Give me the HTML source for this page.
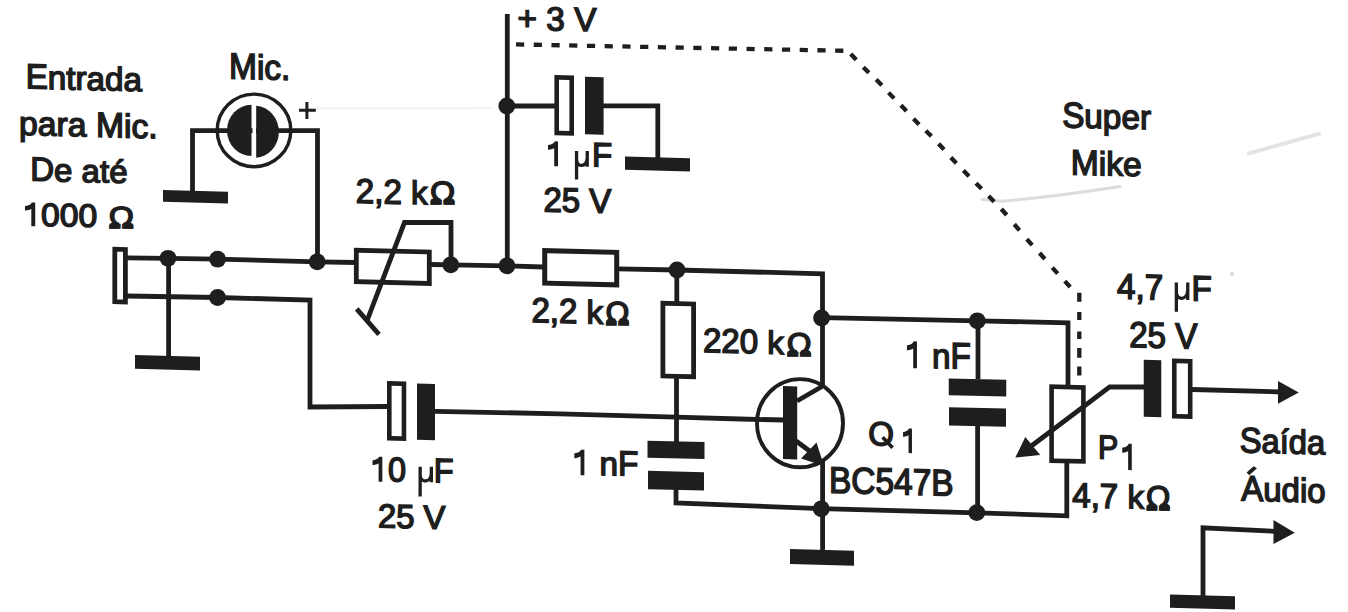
<!DOCTYPE html>
<html><head><meta charset="utf-8"><title>Super Mike</title>
<style>html,body{margin:0;padding:0;background:#fff;}body{width:1348px;height:612px;overflow:hidden;font-family:"Liberation Sans",sans-serif;}svg{display:block;}text{font-kerning:none;text-rendering:geometricPrecision;}</style>
</head><body><svg width="1348" height="612" viewBox="0 0 1348 612"><path d="M315 108.5 L493 108.3" stroke="#f2f2f2" stroke-width="2" fill="none"/><path d="M982 199.5 L1002 201.2 Q1060 196 1120 186.5" stroke="#dcdcdc" stroke-width="3" fill="none" stroke-linecap="round"/><path d="M1249 153.4 L1319 133.8" stroke="#e4e4e4" stroke-width="4" fill="none" stroke-linecap="round"/><circle cx="1232" cy="273.7" r="2" fill="#d8d8d8"/><polyline points="256,130.6 317.5,130.6 317.5,262" fill="none" stroke="#1e1e1e" stroke-width="4.8" stroke-linejoin="miter" stroke-linecap="butt"/><polyline points="252.5,130.6 192.5,130.6 192.5,191" fill="none" stroke="#1e1e1e" stroke-width="4.8" stroke-linejoin="miter" stroke-linecap="butt"/><polyline points="127,257.8 168,258.3 217.6,259.2 317.5,261.8 356,262.5" fill="none" stroke="#1e1e1e" stroke-width="4.8" stroke-linejoin="miter" stroke-linecap="butt"/><polyline points="127,296 217.6,297.5 310,300 310,407 387,406.5" fill="none" stroke="#1e1e1e" stroke-width="4.8" stroke-linejoin="miter" stroke-linecap="butt"/><polyline points="168.6,258 168.6,356" fill="none" stroke="#1e1e1e" stroke-width="4.8" stroke-linejoin="miter" stroke-linecap="butt"/><polyline points="431,264.5 451,264.8 507,265.8 543,267" fill="none" stroke="#1e1e1e" stroke-width="4.8" stroke-linejoin="miter" stroke-linecap="butt"/><polyline points="507.3,14 507.3,266" fill="none" stroke="#1e1e1e" stroke-width="4.8" stroke-linejoin="miter" stroke-linecap="butt"/><polyline points="507,106 555,106" fill="none" stroke="#1e1e1e" stroke-width="4.8" stroke-linejoin="miter" stroke-linecap="butt"/><polyline points="603,105.8 657.8,105.8 657.8,158" fill="none" stroke="#1e1e1e" stroke-width="4.8" stroke-linejoin="miter" stroke-linecap="butt"/><polyline points="618,268.8 677,270 822.5,273.8 822.5,386" fill="none" stroke="#1e1e1e" stroke-width="4.8" stroke-linejoin="miter" stroke-linecap="butt"/><polyline points="676.8,270 676.8,302" fill="none" stroke="#1e1e1e" stroke-width="4.8" stroke-linejoin="miter" stroke-linecap="butt"/><polyline points="676.5,378 676.5,442" fill="none" stroke="#1e1e1e" stroke-width="4.8" stroke-linejoin="miter" stroke-linecap="butt"/><polyline points="676,489 676,503 821,508.6 977,512.8 1066.8,515.8 1066.8,462" fill="none" stroke="#1e1e1e" stroke-width="4.8" stroke-linejoin="miter" stroke-linecap="butt"/><polyline points="435,411.3 560,413.8 676,417.2 740,419 784,420" fill="none" stroke="#1e1e1e" stroke-width="4.8" stroke-linejoin="miter" stroke-linecap="butt"/><polyline points="822.6,460 822.6,550" fill="none" stroke="#1e1e1e" stroke-width="4.8" stroke-linejoin="miter" stroke-linecap="butt"/><polyline points="822,317.6 977.5,320.8 1068,322.9 1068,385" fill="none" stroke="#1e1e1e" stroke-width="4.8" stroke-linejoin="miter" stroke-linecap="butt"/><polyline points="978,320.8 978,379" fill="none" stroke="#1e1e1e" stroke-width="4.8" stroke-linejoin="miter" stroke-linecap="butt"/><polyline points="977.6,425 977.6,512" fill="none" stroke="#1e1e1e" stroke-width="4.8" stroke-linejoin="miter" stroke-linecap="butt"/><polyline points="1144,387 1109.7,386.8 1030,447" fill="none" stroke="#1e1e1e" stroke-width="4.8" stroke-linejoin="miter" stroke-linecap="butt"/><polyline points="1192,389.5 1282,392" fill="none" stroke="#1e1e1e" stroke-width="4.8" stroke-linejoin="miter" stroke-linecap="butt"/><polyline points="1203,596 1203,527.8 1278,531.5" fill="none" stroke="#1e1e1e" stroke-width="4.8" stroke-linejoin="miter" stroke-linecap="butt"/><rect transform="matrix(1 0.025 0 1 0 -4.888)" x="163" y="190.91" width="65.00" height="11.69" fill="#1e1e1e"/><rect transform="matrix(1 0.025 0 1 0 -4.188)" x="135" y="355.91" width="65.00" height="13.69" fill="#1e1e1e"/><rect transform="matrix(1 0.025 0 1 0 -16.438)" x="625" y="157.41" width="65.00" height="13.19" fill="#1e1e1e"/><rect transform="matrix(1 0.025 0 1 0 -20.550)" x="790" y="549.90" width="64.00" height="15.00" fill="#1e1e1e"/><rect transform="matrix(1 0.025 0 1 0 -30.062)" x="1170" y="595.41" width="65.00" height="13.19" fill="#1e1e1e"/><rect transform="matrix(1 0.025 0 1 0 -14.857)" x="585" y="77.00" width="18.60" height="57.40" fill="#1e1e1e"/><rect transform="matrix(1 0.025 0 1 0 -10.650)" x="417" y="383.75" width="18.00" height="56.25" fill="#1e1e1e"/><rect transform="matrix(1 0.025 0 1 0 -16.900)" x="647.5" y="441.36" width="57.00" height="16.99" fill="#1e1e1e"/><rect transform="matrix(1 0.025 0 1 0 -16.900)" x="648" y="471.55" width="56.00" height="18.30" fill="#1e1e1e"/><rect transform="matrix(1 0.025 0 1 0 -24.438)" x="948.75" y="379.11" width="57.50" height="16.78" fill="#1e1e1e"/><rect transform="matrix(1 0.025 0 1 0 -24.438)" x="949" y="407.86" width="57.00" height="18.29" fill="#1e1e1e"/><rect transform="matrix(1 0.025 0 1 0 -28.812)" x="1143.75" y="360.00" width="17.50" height="57.00" fill="#1e1e1e"/><rect transform="matrix(1 0.025 0 1 0 -19.753)" x="783" y="386.30" width="14.20" height="72.90" fill="#1e1e1e"/><rect transform="matrix(1 0.025 0 1 0 -3.002)" x="114.80" y="249.40" width="10.60" height="52.50" fill="none" stroke="#1e1e1e" stroke-width="4.8"/><rect transform="matrix(1 0.025 0 1 0 -9.820)" x="356.30" y="251.09" width="73.00" height="31.43" fill="none" stroke="#1e1e1e" stroke-width="4.8"/><rect transform="matrix(1 0.025 0 1 0 -14.518)" x="544.70" y="251.48" width="72.00" height="32.54" fill="none" stroke="#1e1e1e" stroke-width="5.0"/><rect transform="matrix(1 0.025 0 1 0 -16.956)" x="662.90" y="303.62" width="30.70" height="72.76" fill="none" stroke="#1e1e1e" stroke-width="4.8"/><rect transform="matrix(1 0.025 0 1 0 -14.105)" x="556.70" y="77.60" width="15.00" height="55.60" fill="none" stroke="#1e1e1e" stroke-width="4.6"/><rect transform="matrix(1 0.025 0 1 0 -9.916)" x="389.30" y="383.55" width="14.65" height="54.90" fill="none" stroke="#1e1e1e" stroke-width="4.6"/><rect transform="matrix(1 0.025 0 1 0 -26.688)" x="1051.60" y="387.13" width="31.80" height="73.95" fill="none" stroke="#1e1e1e" stroke-width="4.6"/><rect transform="matrix(1 0.025 0 1 0 -29.556)" x="1174.30" y="361.05" width="15.90" height="55.40" fill="none" stroke="#1e1e1e" stroke-width="4.6"/><circle cx="168" cy="258.3" r="8.4" fill="#1e1e1e"/><circle cx="217.6" cy="259.2" r="8.4" fill="#1e1e1e"/><circle cx="217.6" cy="297.5" r="8.4" fill="#1e1e1e"/><circle cx="317.2" cy="261.8" r="8.4" fill="#1e1e1e"/><circle cx="450.8" cy="264.8" r="8.4" fill="#1e1e1e"/><circle cx="507" cy="265.8" r="8.4" fill="#1e1e1e"/><circle cx="506.8" cy="106" r="8.4" fill="#1e1e1e"/><circle cx="677" cy="270" r="8.4" fill="#1e1e1e"/><circle cx="821.6" cy="318" r="8.4" fill="#1e1e1e"/><circle cx="821.3" cy="508.8" r="8.4" fill="#1e1e1e"/><circle cx="977.3" cy="320.8" r="8.4" fill="#1e1e1e"/><circle cx="976.8" cy="512.6" r="8.4" fill="#1e1e1e"/><polyline points="367.3,320 404.5,222.5 451,222.5 451,265" fill="none" stroke="#1e1e1e" stroke-width="4.8" stroke-linejoin="miter"/><line x1="356.7" y1="308.8" x2="379" y2="334.3" stroke="#1e1e1e" stroke-width="4.8"/><ellipse cx="254" cy="130.4" rx="36.8" ry="36.3" fill="none" stroke="#1e1e1e" stroke-width="3.4"/><path d="M251.5 104.8 A24.5 25.6 0 0 0 251.5 156 Z" fill="#1e1e1e"/><path d="M256.2 105.8 A24.2 26 0 0 1 256.2 157.7 Z" fill="#1e1e1e"/><path d="M299 110.3 H315.8 M306.9 101.9 V118.9" stroke="#1e1e1e" stroke-width="3"/><ellipse cx="800" cy="423.2" rx="43" ry="44.1" fill="none" stroke="#1e1e1e" stroke-width="3.9"/><line x1="797" y1="401" x2="822" y2="386.5" stroke="#1e1e1e" stroke-width="4.8"/><line x1="796" y1="441" x2="811" y2="452" stroke="#1e1e1e" stroke-width="4.8"/><polygon points="816.5,442.5 801,458.5 824,466" fill="#1e1e1e"/><polygon points="1015.3,457.6 1025.3,437 1040.2,455" fill="#1e1e1e"/><polygon points="1278,381 1298.75,392.5 1278,403.75" fill="#1e1e1e"/><polygon points="1273.5,520 1294.75,532.75 1273.5,544" fill="#1e1e1e"/><path d="M516.00,44.40L524.20,44.56M533.73,44.74L541.93,44.90M551.46,45.09L559.66,45.25M569.19,45.43L577.39,45.59M586.92,45.78L595.12,45.93M604.65,46.12L612.85,46.28M622.38,46.46L630.58,46.62M640.11,46.81L648.31,46.97M657.84,47.15L666.04,47.31M675.57,47.50L683.77,47.65M693.30,47.84L701.50,48.00M711.03,48.18L719.23,48.34M728.76,48.53L736.96,48.69M746.49,48.87L754.69,49.03M764.22,49.22L772.42,49.37M781.95,49.56L790.15,49.72M799.68,49.90L807.88,50.06M817.41,50.25L825.61,50.41M835.14,50.59L843.34,50.75M850.73,54.02L856.27,59.78M863.27,67.18L868.93,72.82M876.19,79.45L881.81,85.15M888.54,92.61L894.06,98.39M900.94,105.31L906.46,111.09M913.49,118.85L919.11,124.55M925.77,130.68L931.43,136.32M938.58,143.67L944.02,149.53M950.88,157.47L956.32,163.33M963.39,170.55L969.01,176.25M975.99,183.15L981.61,188.85M988.62,196.03L994.18,201.77M1001.33,209.02L1006.67,214.98M1014.31,224.25L1019.49,230.35M1026.85,239.10L1032.15,245.10M1039.53,253.02L1044.87,258.98M1052.32,267.63L1057.68,273.57M1064.78,281.16L1070.22,287.04M1079.3,292.8L1079.3,301.8M1079.3,312L1079.3,320.1M1079.3,331.5L1079.3,338.9M1079.3,347.9L1079.3,357.7M1079.3,366.6L1079.3,375.6" fill="none" stroke="#1e1e1e" stroke-width="4.3"/><path d="M882.6,437.2 L892.6,447.8" stroke="#1e1e1e" stroke-width="3.6"/><polygon points="1246.6,472.6 1253.6,466.2 1257,468.3 1249.2,475.2" fill="#1e1e1e"/><path d="M576.55,151.00 L576.55,179.60 M587.25,151.00 L587.25,166.80 M576.55,159.69 C576.55,167.40 586.75,168.00 587.25,157.64" fill="none" stroke="#1e1e1e" stroke-width="3.3"/><path d="M420.15,466.70 L420.15,496.50 M431.35,466.70 L431.35,482.30 M420.15,475.28 C420.15,482.90 430.85,483.50 431.35,473.25" fill="none" stroke="#1e1e1e" stroke-width="3.3"/><path d="M1176.35,282.40 L1176.35,311.80 M1187.75,282.40 L1187.75,299.90 M1176.35,292.02 C1176.35,300.50 1187.25,301.10 1187.75,289.75" fill="none" stroke="#1e1e1e" stroke-width="3.3"/><path d="M109.50,228.70 L109.50,224.06 L112.10,222.52 L119.12,222.52 L119.12,228.70 Z M133.10,228.70 L133.10,224.06 L130.50,222.52 L123.48,222.52 L123.48,228.70 Z" fill="#1e1e1e"/><path d="M430.70,204.70 L430.70,199.86 L433.30,198.25 L440.32,198.25 L440.32,204.70 Z M454.30,204.70 L454.30,199.86 L451.70,198.25 L444.68,198.25 L444.68,204.70 Z" fill="#1e1e1e"/><path d="M606.30,325.30 L606.30,320.28 L608.77,318.60 L615.47,318.60 L615.47,325.30 Z M628.80,325.30 L628.80,320.28 L626.33,318.60 L619.63,318.60 L619.63,325.30 Z" fill="#1e1e1e"/><path d="M787.40,356.60 L787.40,351.64 L789.97,349.99 L796.90,349.99 L796.90,356.60 Z M810.70,356.60 L810.70,351.64 L808.13,349.99 L801.20,349.99 L801.20,356.60 Z" fill="#1e1e1e"/><path d="M1146.80,510.70 L1146.80,505.54 L1149.32,503.81 L1156.13,503.81 L1156.13,510.70 Z M1169.70,510.70 L1169.70,505.54 L1167.18,503.81 L1160.37,503.81 L1160.37,510.70 Z" fill="#1e1e1e"/><g fill="#1e1e1e" stroke="#1e1e1e" stroke-width="1.5" font-family="Liberation Sans, sans-serif" font-size="100" style="font-kerning:none"><g transform="matrix(0.33212 0.008303 0 0.34739 25.63 88.362)" stroke-width="4.415"><text font-weight="normal" x="0.000">E</text><text font-weight="normal" transform="translate(66.699 0) scale(1 0.9495)">ntrada</text></g><g transform="matrix(0.33716 0.008429 0 0.35030 19.08 134.828)" stroke-width="4.364"><text font-weight="normal" transform="translate(0.000 0) scale(1 0.9495)">para</text><text font-weight="normal" x="227.930">M</text><text font-weight="normal" transform="translate(311.230 0) scale(1 0.9495)">ic</text><text font-weight="normal" x="383.447">.</text></g><g transform="matrix(0.33016 0.008254 0 0.33576 30.24 180.619)" stroke-width="4.505"><text font-weight="normal" x="0.000">D</text><text font-weight="normal" transform="translate(72.217 0) scale(1 0.9495)">e</text><text font-weight="normal" transform="translate(155.615 0) scale(1 0.9495)">até</text></g><g transform="matrix(0.33724 0.008431 0 0.32268 22.34 225.186)" stroke-width="4.546"><text font-weight="normal" x="55.615">000</text><path transform="translate(0.000 0)" d="M35.9,0 L35.9,-68.8 L29.5,-68.8 C26,-62 18,-59 10.1,-57.8 L10.1,-48.2 C17,-49 24,-51 28.9,-55 L28.9,0 Z"/></g><g transform="matrix(0.33501 0.008375 0 0.36483 229.00 78.486)" stroke-width="4.287"><text font-weight="normal" x="0.000">M</text><text font-weight="normal" transform="translate(83.301 0) scale(1 0.9495)">ic</text><text font-weight="normal" x="155.518">.</text></g><g transform="matrix(0.33340 0.008335 0 0.33431 517.62 29.447)" stroke-width="4.493"><text font-weight="normal" x="0.000">+</text><text font-weight="normal" x="86.182">3</text><text font-weight="normal" x="169.580">V</text></g><g transform="matrix(0.33079 0.008270 0 0.34448 355.79 202.732)" stroke-width="4.443"><text font-weight="normal" x="0.000">2,2</text><text font-weight="normal" transform="translate(166.797 0) scale(1 0.9495)">k</text></g><g transform="matrix(0.33033 0.008258 0 0.33867 545.41 165.190)" stroke-width="4.484"><text font-weight="normal" x="141.016">F</text><path transform="translate(0.000 0)" d="M35.9,0 L35.9,-68.8 L29.5,-68.8 C26,-62 18,-59 10.1,-57.8 L10.1,-48.2 C17,-49 24,-51 28.9,-55 L28.9,0 Z"/></g><g transform="matrix(0.33010 0.008252 0 0.34158 543.49 211.382)" stroke-width="4.466"><text font-weight="normal" x="0.000">25</text><text font-weight="normal" x="139.014">V</text></g><g transform="matrix(0.33079 0.008270 0 0.34594 531.39 322.032)" stroke-width="4.433"><text font-weight="normal" x="0.000">2,2</text><text font-weight="normal" transform="translate(166.797 0) scale(1 0.9495)">k</text></g><g transform="matrix(0.33077 0.008269 0 0.34012 702.89 352.017)" stroke-width="4.472"><text font-weight="normal" x="0.000">220</text><text font-weight="normal" transform="translate(194.629 0) scale(1 0.9495)">k</text></g><g transform="matrix(0.32429 0.008107 0 0.34158 369.97 480.681)" stroke-width="4.505"><text font-weight="normal" x="55.615">0</text><text font-weight="normal" x="196.631">F</text><path transform="translate(0.000 0)" d="M35.9,0 L35.9,-68.8 L29.5,-68.8 C26,-62 18,-59 10.1,-57.8 L10.1,-48.2 C17,-49 24,-51 28.9,-55 L28.9,0 Z"/></g><g transform="matrix(0.32810 0.008202 0 0.33140 377.90 527.287)" stroke-width="4.549"><text font-weight="normal" x="0.000">25</text><text font-weight="normal" x="139.014">V</text></g><g transform="matrix(0.33334 0.008334 0 0.34884 571.68 474.191)" stroke-width="4.398"><text font-weight="normal" transform="translate(83.398 0) scale(1 0.9495)">n</text><text font-weight="normal" x="139.014">F</text><path transform="translate(0.000 0)" d="M35.9,0 L35.9,-68.8 L29.5,-68.8 C26,-62 18,-59 10.1,-57.8 L10.1,-48.2 C17,-49 24,-51 28.9,-55 L28.9,0 Z"/></g><g transform="matrix(0.32961 0.008240 0 0.33285 868.19 444.930)" stroke-width="4.529"><text font-weight="normal" x="0.000">O</text></g><g transform="matrix(0.29070 0.007267 0 0.33576 900.81 452.083)" stroke-width="4.789"><path transform="translate(0.000 0)" d="M35.9,0 L35.9,-68.8 L29.5,-68.8 C26,-62 18,-59 10.1,-57.8 L10.1,-48.2 C17,-49 24,-51 28.9,-55 L28.9,0 Z"/></g><g transform="matrix(0.33428 0.008357 0 0.37065 829.01 492.681)" stroke-width="4.256"><text font-weight="normal" x="0.000">BC547B</text></g><g transform="matrix(0.33281 0.008320 0 0.36774 904.29 367.192)" stroke-width="4.282"><text font-weight="normal" transform="translate(83.398 0) scale(1 0.9495)">n</text><text font-weight="normal" x="139.014">F</text><path transform="translate(0.000 0)" d="M35.9,0 L35.9,-68.8 L29.5,-68.8 C26,-62 18,-59 10.1,-57.8 L10.1,-48.2 C17,-49 24,-51 28.9,-55 L28.9,0 Z"/></g><g transform="matrix(0.33302 0.008326 0 0.35756 1062.14 127.127)" stroke-width="4.344"><text font-weight="normal" x="0.000">S</text><text font-weight="normal" transform="translate(66.699 0) scale(1 0.9495)">uper</text></g><g transform="matrix(0.33554 0.008388 0 0.35320 1070.80 174.449)" stroke-width="4.356"><text font-weight="normal" x="0.000">M</text><text font-weight="normal" transform="translate(83.301 0) scale(1 0.9495)">ike</text></g><g transform="matrix(0.33202 0.008301 0 0.35611 1116.99 298.572)" stroke-width="4.360"><text font-weight="normal" x="0.000">4,7</text><text font-weight="normal" x="224.414">F</text></g><g transform="matrix(0.33160 0.008290 0 0.36047 1129.18 346.978)" stroke-width="4.335"><text font-weight="normal" x="0.000">25</text><text font-weight="normal" x="139.014">V</text></g><g transform="matrix(0.30250 0.007563 0 0.33576 1098.07 458.387)" stroke-width="4.700"><text font-weight="normal" x="0.000">P</text></g><g transform="matrix(0.31395 0.007849 0 0.35902 1119.78 469.069)" stroke-width="4.458"><path transform="translate(0.000 0)" d="M35.9,0 L35.9,-68.8 L29.5,-68.8 C26,-62 18,-59 10.1,-57.8 L10.1,-48.2 C17,-49 24,-51 28.9,-55 L28.9,0 Z"/></g><g transform="matrix(0.33031 0.008258 0 0.34594 1072.29 506.945)" stroke-width="4.436"><text font-weight="normal" x="0.000">4,7</text><text font-weight="normal" transform="translate(166.797 0) scale(1 0.9495)">k</text></g><g transform="matrix(0.32712 0.008178 0 0.35466 1239.76 452.263)" stroke-width="4.400"><text font-weight="normal" x="0.000">S</text><text font-weight="normal" transform="translate(66.699 0) scale(1 0.9495)">aída</text></g><g transform="matrix(0.33019 0.008255 0 0.35611 1241.19 500.511)" stroke-width="4.371"><text font-weight="normal" x="0.000">A</text><text font-weight="normal" transform="translate(66.699 0) scale(1 0.9495)">udio</text></g><text stroke-width="4.620" transform="matrix(0.34284 0 0 0.30648 108.49 227.95)">Ω</text><text stroke-width="4.520" transform="matrix(0.34284 0 0 0.32081 429.69 203.95)">Ω</text><text stroke-width="4.546" transform="matrix(0.32623 0 0 0.33370 605.36 324.55)">Ω</text><text stroke-width="4.493" transform="matrix(0.33831 0 0 0.32940 786.41 355.85)">Ω</text><text stroke-width="4.438" transform="matrix(0.33227 0 0 0.34372 1145.84 509.95)">Ω</text></g></svg></body></html>
